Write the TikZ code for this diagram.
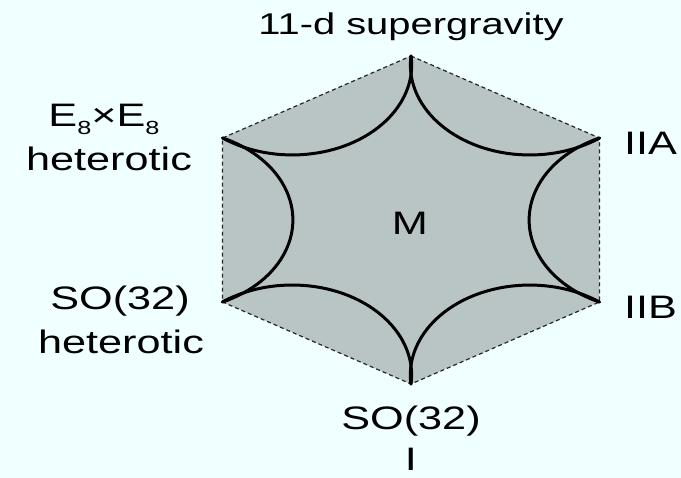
\documentclass[tikz,border=0pt]{standalone}
\usepackage{fontspec}
\newfontfamily\lblfont[FakeStretch=1.33]{Liberation Sans}
\definecolor{bgc}{RGB}{240,255,255}
\definecolor{hexc}{RGB}{185,197,197}
\newcommand\lsub[1]{\raisebox{-8pt}{\fontsize{19}{19}\selectfont #1}}
\begin{document}
\begin{tikzpicture}[x=1pt,y=-1pt,
  lbl/.style={font=\lblfont\fontsize{32.5}{39}\selectfont, inner sep=0pt, anchor=base},
  cusp/.style={line width=3pt, draw=black, line cap=round},
  rim/.style={draw=black!85, line width=1.2pt, dash pattern=on 4pt off 3pt}]
\fill[bgc] (0,0) rectangle (681,478);
\useasboundingbox (0,0) rectangle (681,478);
\begin{scope}[shift={(411,220)}, x={(1.327pt,0pt)}, y={(0pt,1pt)}]
  \coordinate (vT) at (90:164);
  \coordinate (vUR) at (30:164);
  \coordinate (vLR) at (-30:164);
  \coordinate (vB) at (-90:164);
  \coordinate (vLL) at (-150:164);
  \coordinate (vUL) at (150:164);
  \filldraw[fill=hexc, rim] (vT) -- (vUR) -- (vLR) -- (vB) -- (vLL) -- (vUL) -- cycle;
  \draw[cusp] (vT) arc[start angle=174.27, end angle=305.73, radius=90];
  \draw[cusp] (vUR) arc[start angle=114.27, end angle=245.73, radius=90];
  \draw[cusp] (vLR) arc[start angle=54.27, end angle=185.73, radius=90];
  \draw[cusp] (vB) arc[start angle=-5.73, end angle=125.73, radius=90];
  \draw[cusp] (vLL) arc[start angle=294.27, end angle=425.73, radius=90];
  \draw[cusp] (vUL) arc[start angle=234.27, end angle=365.73, radius=90];
\end{scope}
\node[lbl, font=\lblfont\fontsize{30}{36}\selectfont] (sugra) at (411,35) {11-d supergravity};
\node[lbl] (e8) at (104,127) {E\lsub{8}×E\lsub{8}};
\node[lbl] (het1) at (109,171) {heterotic};
\node[lbl] (so32h) at (120,310) {SO(32)};
\node[lbl] (het2) at (121,354) {heterotic};
\node[lbl, anchor=base west] (iia) at (624,155) {IIA};
\node[lbl, anchor=base west] (iib) at (624,319) {IIB};
\node[lbl] (m) at (410,235) {M};
\node[lbl] (so32) at (411,430) {SO(32)};
\node[lbl] (one) at (411,471) {I};
\end{tikzpicture}
\end{document}
